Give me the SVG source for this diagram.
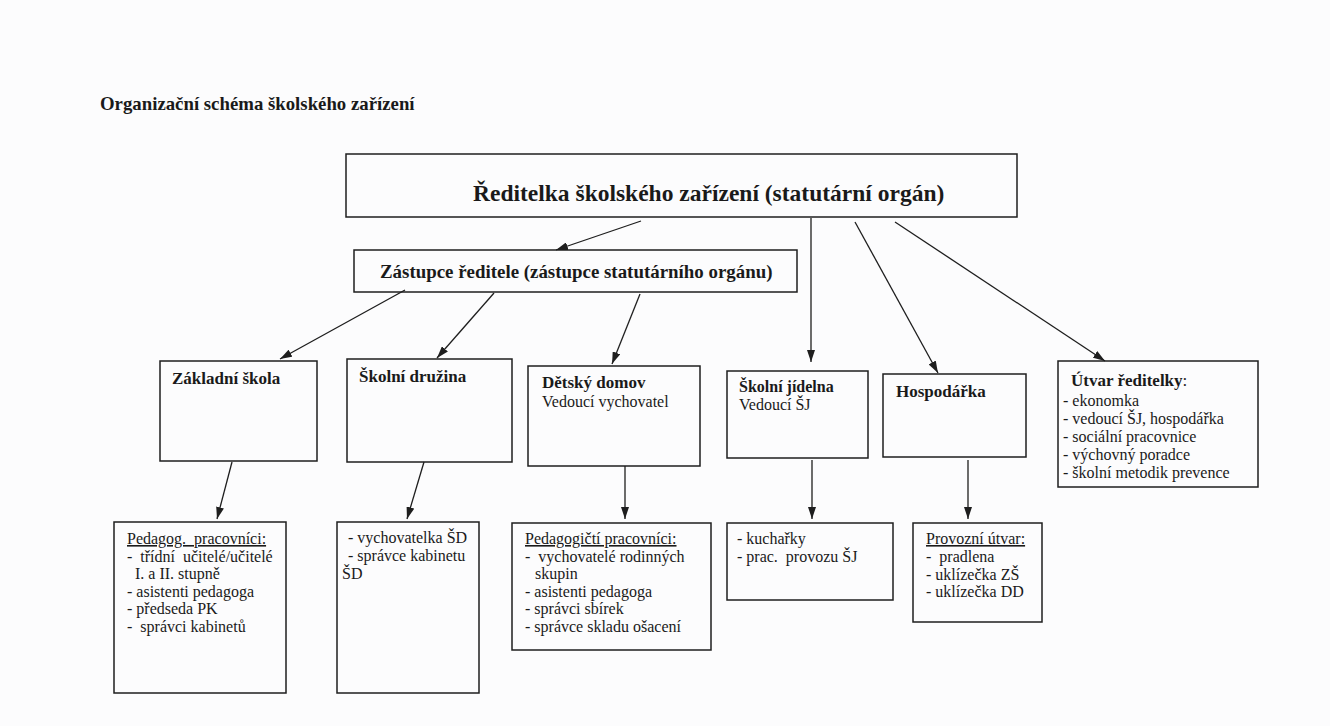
<svg xmlns="http://www.w3.org/2000/svg" width="1330" height="726" viewBox="0 0 1330 726">
<defs>
<style>
.box{fill:none;stroke:#1e1e1e;stroke-width:1.5}
.t{font-family:"Liberation Serif","Times New Roman",serif;fill:#1a1a1a;white-space:pre}
.b{font-weight:bold}
.h17{font-size:17px}
.r16{font-size:16px}
.u{text-decoration:underline}
.c{stroke:#1e1e1e;stroke-width:1.3;fill:none;marker-end:url(#ah)}
</style>
<marker id="ah" viewBox="0 0 12 8" refX="12" refY="4" markerWidth="12" markerHeight="8" markerUnits="userSpaceOnUse" orient="auto">
<path d="M0,0 L12,4 L0,8 z" fill="#1e1e1e"/>
</marker>
</defs>
<rect width="1330" height="726" fill="#fcfcfd"/>
<text class="t b" x="100" y="110" font-size="18.8">Organizační schéma školského zařízení</text>

<g id="reditelka">
<rect class="box" x="346" y="154" width="671" height="63"/>
<text class="t b" x="473" y="201" font-size="23.5">Ředitelka školského zařízení (statutární orgán)</text>
</g>
<g id="zastupce">
<rect class="box" x="354" y="250" width="443" height="42"/>
<text class="t b" x="380" y="278" font-size="18.9">Zástupce ředitele (zástupce statutárního orgánu)</text>
</g>
<g id="zakladni-skola">
<rect class="box" x="160" y="361" width="157" height="100"/>
<text class="t b h17" x="172" y="384">Základní škola</text>
</g>
<g id="skolni-druzina">
<rect class="box" x="347" y="359" width="165" height="103"/>
<text class="t b h17" x="359" y="382">Školní družina</text>
</g>
<g id="detsky-domov">
<rect class="box" x="528" y="366" width="172" height="100"/>
<text class="t b h17" x="542" y="388">Dětský domov</text>
<text class="t r16" x="542" y="407">Vedoucí vychovatel</text>
</g>
<g id="skolni-jidelna">
<rect class="box" x="727" y="371" width="141" height="87"/>
<text class="t b" x="739" y="392" font-size="16">Školní jídelna</text>
<text class="t r16" x="739" y="410">Vedoucí ŠJ</text>
</g>
<g id="hospodarka">
<rect class="box" x="883" y="374" width="143" height="83"/>
<text class="t b h17" x="896" y="397">Hospodářka</text>
</g>
<g id="utvar-reditelky">
<rect class="box" x="1058" y="361" width="200" height="126"/>
<text class="t h17" x="1071" y="386"><tspan class="b">Útvar ředitelky</tspan>:</text>
<text class="t r16" x="1063" y="405.5">- ekonomka</text>
<text class="t r16" x="1063" y="423.5">- vedoucí ŠJ, hospodářka</text>
<text class="t r16" x="1063" y="441.5">- sociální pracovnice</text>
<text class="t r16" x="1063" y="459.5">- výchovný poradce</text>
<text class="t r16" x="1063" y="477.5">- školní metodik prevence</text>
</g>
<g id="pedagog-zs">
<rect class="box" x="114" y="522" width="172" height="171"/>
<text class="t r16 u" x="127" y="544">Pedagog.  pracovníci:</text>
<text class="t r16" x="127" y="561.6">-  třídní  učitelé/učitelé</text>
<text class="t r16" x="135" y="579.2">I. a II. stupně</text>
<text class="t r16" x="127" y="596.8">- asistenti pedagoga</text>
<text class="t r16" x="127" y="614.4">- předseda PK</text>
<text class="t r16" x="127" y="632">-  správci kabinetů</text>
</g>
<g id="druzina-prac">
<rect class="box" x="337" y="522" width="142" height="171"/>
<text class="t r16" x="348" y="543">- vychovatelka ŠD</text>
<text class="t r16" x="348" y="561">- správce kabinetu</text>
<text class="t r16" x="342" y="579">ŠD</text>
</g>
<g id="pedagog-dd">
<rect class="box" x="512" y="523" width="199" height="127"/>
<text class="t r16 u" x="525" y="544">Pedagogičtí pracovníci:</text>
<text class="t r16" x="525" y="561.6">-  vychovatelé rodinných</text>
<text class="t r16" x="535" y="579.2">skupin</text>
<text class="t r16" x="525" y="596.8">- asistenti pedagoga</text>
<text class="t r16" x="525" y="614.4">- správci sbírek</text>
<text class="t r16" x="525" y="632">- správce skladu ošacení</text>
</g>
<g id="jidelna-prac">
<rect class="box" x="727" y="523" width="166" height="77"/>
<text class="t r16" x="737" y="544">- kuchařky</text>
<text class="t r16" x="737" y="562">- prac.  provozu ŠJ</text>
</g>
<g id="provozni-utvar">
<rect class="box" x="913" y="523" width="129" height="99"/>
<text class="t r16 u" x="926" y="544">Provozní útvar:</text>
<text class="t r16" x="926" y="562">-  pradlena</text>
<text class="t r16" x="926" y="579.5">- uklízečka ZŠ</text>
<text class="t r16" x="926" y="597">- uklízečka DD</text>
</g>

<g id="connectors">
<line class="c" x1="641" y1="221" x2="556" y2="250"/>
<line class="c" x1="811" y1="218" x2="811" y2="362"/>
<line class="c" x1="855" y1="222" x2="938" y2="373"/>
<line class="c" x1="895" y1="222" x2="1105" y2="361"/>
<line class="c" x1="405" y1="290" x2="280" y2="359"/>
<line class="c" x1="494" y1="293" x2="437" y2="358"/>
<line class="c" x1="640" y1="294" x2="612" y2="364"/>
<line class="c" x1="232" y1="462" x2="217" y2="519"/>
<line class="c" x1="424" y1="462" x2="407" y2="519"/>
<line class="c" x1="625" y1="466" x2="625" y2="519"/>
<line class="c" x1="812" y1="460" x2="812" y2="519"/>
<line class="c" x1="968" y1="460" x2="968" y2="519"/>
</g>
</svg>
